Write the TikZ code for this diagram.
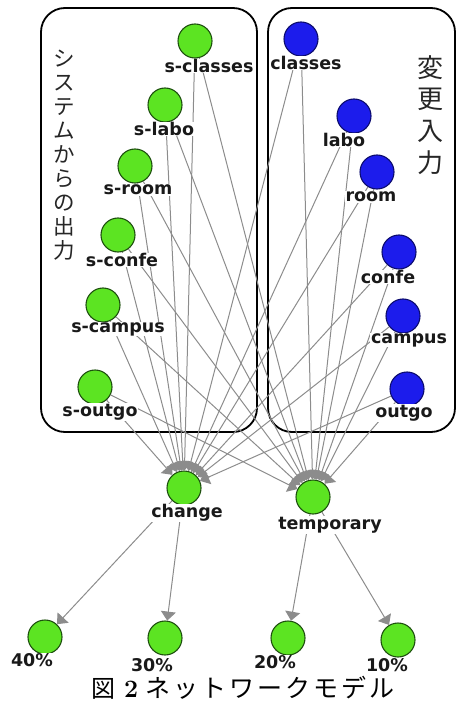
\documentclass[tikz,border=0pt]{standalone}
\usepackage{fontspec}
\setmainfont{DejaVu Sans}
\newfontfamily\jpfont{Noto Sans CJK JP}
\newfontfamily\lblfont{DejaVu Sans}
\newfontfamily\digitfont{Latin Modern Roman}
\usetikzlibrary{arrows.meta}
\definecolor{nodegreen}{RGB}{92,228,34}
\definecolor{greenline}{RGB}{30,80,15}
\definecolor{nodeblue}{RGB}{28,28,236}
\definecolor{blueline}{RGB}{12,12,110}
\definecolor{edgegray}{RGB}{140,140,140}
\definecolor{labeltext}{RGB}{25,25,25}
\begin{document}
\begin{tikzpicture}[x=1pt,y=-1pt,
  edge/.style={draw=edgegray,line width=1pt,-{Triangle[length=9pt,width=15pt]}},
  gnode/.style={circle,fill=nodegreen,draw=greenline,line width=1.1pt,minimum size=34pt,inner sep=0pt},
  bnode/.style={circle,fill=nodeblue,draw=blueline,line width=1.1pt,minimum size=34pt,inner sep=0pt},
  lbl/.style={font=\lblfont\bfseries\fontsize{17.5}{19}\selectfont,text=labeltext,fill=white,inner sep=0.6pt},
  groupbox/.style={draw=black,line width=1.8pt,rounded corners=24pt,inner sep=0pt},
  vtext/.style={font=\jpfont,align=center,inner sep=0pt,text=black!85}]
\useasboundingbox (0,0) rectangle (456,708);

% the two groups of input nodes
\node[groupbox,minimum width=216pt,minimum height=424pt] (outbox) at (149,220) {};
\node[groupbox,minimum width=187pt,minimum height=424pt] (inbox) at (361.5,220) {};

\node[vtext,anchor=north,font=\jpfont\fontsize{21.5}{24}\selectfont] (outtitle) at (64,50)
  {シ\\ス\\テ\\ム\\か\\ら\\の\\出\\力};
\node[vtext,anchor=north,font=\jpfont\fontsize{26}{31.7}\selectfont] (intitle) at (430,55)
  {変\\更\\入\\力};

% system output nodes
\node[gnode] (sclasses) at (195,41) {};
\node[gnode] (slabo) at (165,105) {};
\node[gnode] (sroom) at (135,166) {};
\node[gnode] (sconfe) at (118,235) {};
\node[gnode] (scampus) at (103,305) {};
\node[gnode] (soutgo) at (95,387) {};
% change input nodes
\node[bnode] (classes) at (301,39) {};
\node[bnode] (labo) at (354,116) {};
\node[bnode] (room) at (377,172) {};
\node[bnode] (confe) at (399,252) {};
\node[bnode] (campus) at (403,316) {};
\node[bnode] (outgo) at (407,389) {};
% hub nodes
\node[gnode] (change) at (184,488) {};
\node[gnode] (temporary) at (313,497) {};
% result nodes
\node[gnode] (p40) at (45,637) {};
\node[gnode] (p30) at (165,638) {};
\node[gnode] (p20) at (288,638) {};
\node[gnode] (p10) at (398,640) {};

% every input feeds both hubs
\foreach \src in {sclasses,slabo,sroom,sconfe,scampus,soutgo,classes,labo,room,confe,campus,outgo}{
  \draw[edge] (\src) -- (change);
  \draw[edge] (\src) -- (temporary);
}
\draw[edge] (change) -- (p40);
\draw[edge] (change) -- (p30);
\draw[edge] (temporary) -- (p20);
\draw[edge] (temporary) -- (p10);

% labels
\node[lbl] (lsclasses) at (209,66) {s-classes};
\node[lbl] (lslabo) at (164,129) {s-labo};
\node[lbl] (lsroom) at (138,190) {s-room};
\node[lbl] (lsconfe) at (122,260) {s-confe};
\node[lbl] (lscampus) at (118,329) {s-campus};
\node[lbl] (lsoutgo) at (100,412) {s-outgo};
\node[lbl] (lclasses) at (306,63) {classes};
\node[lbl] (llabo) at (344,140) {labo};
\node[lbl] (lroom) at (371,197) {room};
\node[lbl] (lconfe) at (388,277) {confe};
\node[lbl] (lcampus) at (409,340) {campus};
\node[lbl] (loutgo) at (404,413) {outgo};
\node[lbl] (lchange) at (187,513) {change};
\node[lbl] (ltemporary) at (330,525) {temporary};
\node[lbl] (l40) at (32,660) {40\%};
\node[lbl] (l30) at (152,665) {30\%};
\node[lbl] (l20) at (275,662) {20\%};
\node[lbl] (l10) at (387,665) {10\%};

% caption
\node[inner sep=0pt,anchor=west] (caption) at (91,688)
  {{\jpfont\fontsize{24}{26}\selectfont 図}\hspace{9pt}{\digitfont\bfseries\fontsize{25}{26}\selectfont 2}\hspace{7pt}{\jpfont\fontsize{25}{26}\selectfont\addfontfeature{LetterSpace=12}ネットワークモデル}};
\end{tikzpicture}
\end{document}
